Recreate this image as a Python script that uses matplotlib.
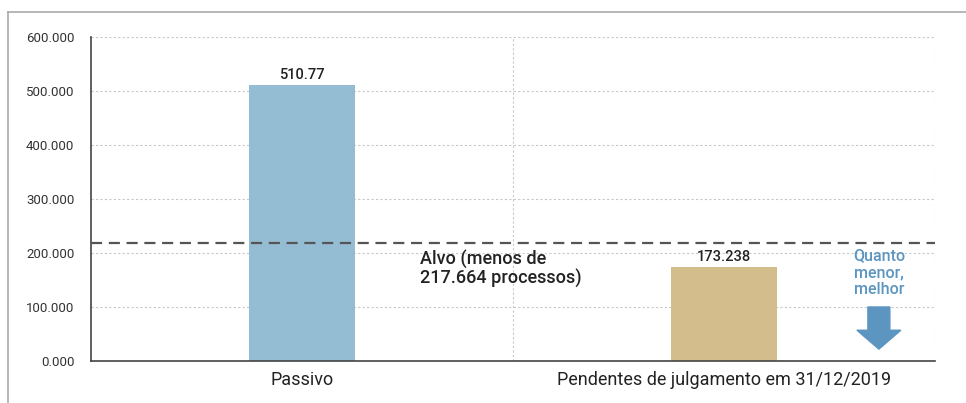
import matplotlib
matplotlib.use("Agg")
import matplotlib.pyplot as plt
from matplotlib import font_manager
from matplotlib.lines import Line2D
from matplotlib.patches import FancyArrow

names = {f.name for f in font_manager.fontManager.ttflist}
fam = ["Liberation Sans Narrow"] if "Liberation Sans Narrow" in names else ["Roboto", "DejaVu Sans"]
plt.rcParams['font.family'] = fam + ["DejaVu Sans"]

categories = ["Passivo", "Pendentes de julgamento em 31/12/2019"]
values = [510770, 173238]
value_labels = ["510.77", "173.238"]
bar_colors = ["#94bcd3", "#d4bd8c"]
target = 217664
target_text = "Alvo (menos de\n217.664 processos)"
yticks = [0, 100000, 200000, 300000, 400000, 500000, 600000]
ytick_labels = ["0.000", "100.000", "200.000", "300.000", "400.000", "500.000", "600.000"]

fig = plt.figure(figsize=(9.66, 4.03), dpi=100)
ax = fig.add_axes([91/966, 42/403, 844/966, 324/403])

x = list(range(len(categories)))
ax.bar(x, values, width=0.25, color=bar_colors, zorder=2)
for xi, v, lab in zip(x, values, value_labels):
    ax.text(xi, v + 6000, lab, ha='center', va='bottom', fontsize=10.5, color='#222222',
            fontweight='medium')

ax.set_xlim(-0.5, 1.5)
ax.set_ylim(0, 600000)
ax.set_yticks(yticks)
ax.set_yticklabels(ytick_labels, fontsize=9.5, color='#333333')
ax.set_xticks(x)
ax.set_xticklabels(categories, fontsize=13, color='#222222')
ax.tick_params(axis='both', length=0, pad=7)
ax.tick_params(axis='y', pad=12)

for yv in yticks[1:]:
    ax.axhline(yv, color='#c8c8c8', linestyle=(0, (2, 2)), linewidth=0.8, zorder=0)
for xv in [0.5, 1.5]:
    ax.axvline(xv, color='#c8c8c8', linestyle=(0, (2, 2)), linewidth=0.8, zorder=0)

ax.axhline(target, color='#555555', linestyle=(0, (5, 3)), linewidth=1.6, zorder=3)
ax.text(0.28, 206000, target_text, ha='left', va='top', fontsize=13, color='#222222',
        linespacing=1.05, fontweight='medium')

for s in ['top', 'right']:
    ax.spines[s].set_visible(False)
ax.spines['left'].set_color('#444444')
ax.spines['bottom'].set_color('#444444')
ax.spines['left'].set_linewidth(1.2)
ax.spines['bottom'].set_linewidth(1.2)

ax.text(1.367, 209000, "Quanto\nmenor,\nmelhor", ha='center', va='top', fontsize=11.5,
        color='#5b95c0', linespacing=1.15, fontweight='medium')
ax.add_patch(FancyArrow(1.367, 100000, 0, -78000, width=0.052, head_width=0.104,
                        head_length=35000, length_includes_head=True,
                        color='#5b95c0', zorder=3))

fig.add_artist(Line2D([8/966, 1.0], [1 - 12/403, 1 - 12/403], color='#aaaaaa', linewidth=1.2,
                      transform=fig.transFigure))
fig.add_artist(Line2D([8/966, 8/966], [0, 1 - 12/403], color='#aaaaaa', linewidth=1.2,
                      transform=fig.transFigure))

fig.savefig("out.png", dpi=100)
